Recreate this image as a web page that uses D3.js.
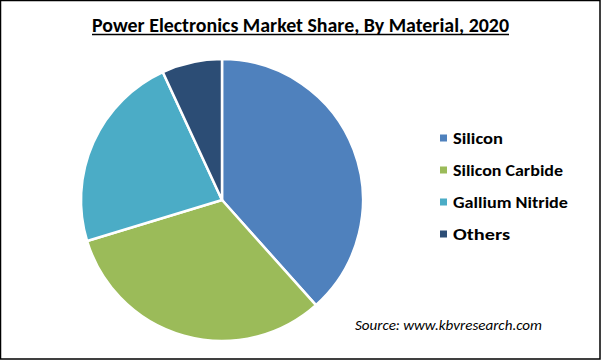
<!DOCTYPE html>
<html><head><meta charset="utf-8">
<script src="https://cdn.jsdelivr.net/npm/d3@7"></script>
<style>body{margin:0;background:#fff}svg{display:block}</style>
</head><body>
<svg id="c" width="601" height="360"></svg>
<script>
const categories = ["Silicon", "Silicon Carbide", "Gallium Nitride", "Others"];
const values = [38.4, 31.9, 22.8, 6.9];
const colors = ["#4F81BD", "#9BBB59", "#4BACC6", "#2C4D75"];
const title = "Power Electronics Market Share, By Material, 2020";
const source = "Source: www.kbvresearch.com";

const svg = d3.select("#c");
svg.append("rect").attr("x",0.5).attr("y",0.5).attr("width",599.5).attr("height",358.5)
  .attr("fill","#fff").attr("stroke","#000").attr("stroke-width",1.5);

const font = "Calibri, Carlito, 'Open Sans', 'Liberation Sans', sans-serif";
svg.append("text").attr("x",92).attr("y",32)
  .attr("font-family",font).attr("font-weight","bold").attr("font-size",20)
  .attr("fill","#000").attr("textLength",417).attr("lengthAdjust","spacingAndGlyphs")
  .text(title);
svg.append("line").attr("x1",92).attr("x2",509).attr("y1",34.5).attr("y2",34.5)
  .attr("stroke","#000").attr("stroke-width",1.3);

const color = d3.scaleOrdinal().domain(categories).range(colors);
const pie = d3.pie().sort(null).value(d => d.v);
const arc = d3.arc().innerRadius(0).outerRadius(141);
const data = categories.map((c,i)=>({c, v: values[i]}));
const g = svg.append("g").attr("transform","translate(222,200)");
g.selectAll("path").data(pie(data)).join("path")
  .attr("d", arc).attr("fill", d => color(d.data.c))
  .attr("stroke","#fff").attr("stroke-width",2.5).attr("stroke-linejoin","round");

const y = d3.scalePoint().domain(categories).range([138, 234]);
const lg = svg.append("g");
lg.selectAll("rect").data(categories).join("rect")
  .attr("x",440).attr("y",d=>y(d)-3.5).attr("width",7).attr("height",7)
  .attr("fill",d=>color(d));
const widths = [50, 110, 115, 57];
lg.selectAll("text").data(categories).join("text")
  .attr("x",453).attr("y",d=>y(d)+5.5)
  .attr("font-family",font).attr("font-weight","bold").attr("font-size",15)
  .attr("fill","#000")
  .attr("textLength",(d,i)=>widths[i]).attr("lengthAdjust","spacingAndGlyphs")
  .text(d=>d);

svg.append("text").attr("x",355).attr("y",330)
  .attr("font-family",font).attr("font-style","italic").attr("font-size",14)
  .attr("fill","#000").attr("textLength",187).attr("lengthAdjust","spacingAndGlyphs")
  .text(source);
</script>
</body></html>
